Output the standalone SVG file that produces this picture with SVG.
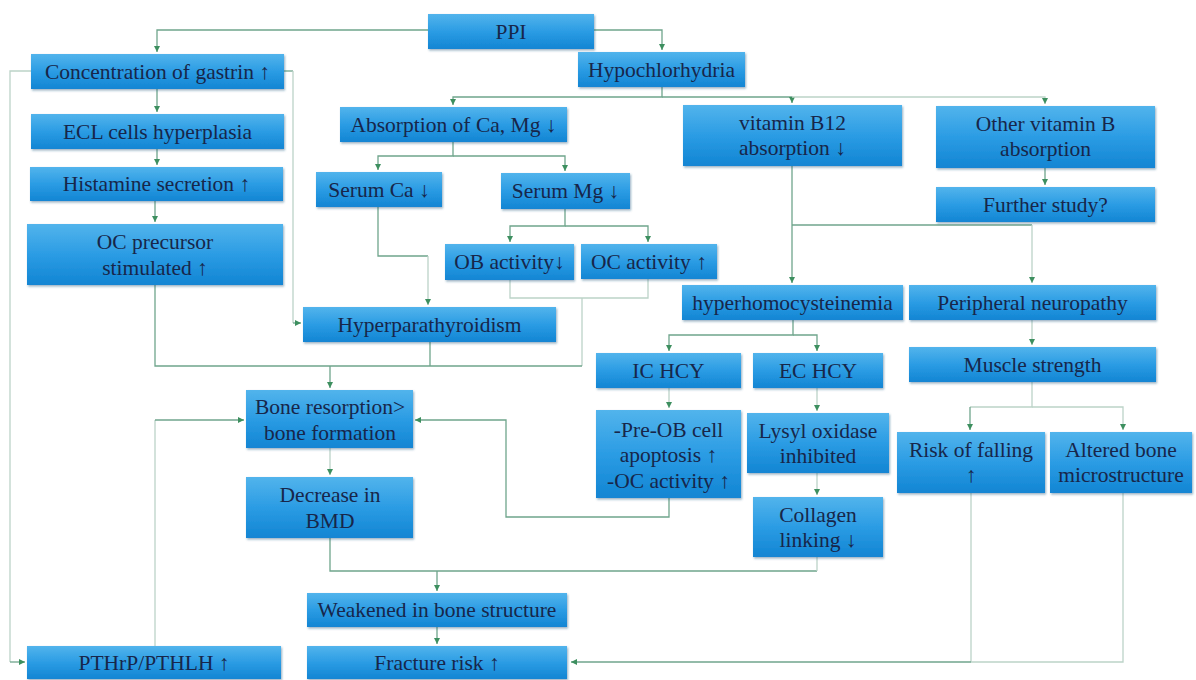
<svg xmlns="http://www.w3.org/2000/svg" width="1196" height="680" viewBox="0 0 1196 680">
<style>
.b{fill:url(#g);filter:url(#sh)}
.t{font-family:'Liberation Serif','Times New Roman',Tinos,'DejaVu Serif',serif;font-size:21.5px;fill:#17264a;text-anchor:middle}
.c{fill:none;stroke:#6fa58c;stroke-width:1.3}
.l{fill:none;stroke:#bcd3c8;stroke-width:1.3}
</style>
<defs>
<linearGradient id="g" x1="0" y1="0" x2="0" y2="1">
<stop offset="0" stop-color="#52b4ec"/>
<stop offset="0.5" stop-color="#2b9ce4"/>
<stop offset="1" stop-color="#1285d3"/>
</linearGradient>
<filter id="sh" x="-5%" y="-10%" width="110%" height="130%">
<feDropShadow dx="1" dy="1.5" stdDeviation="1" flood-color="#1d4f78" flood-opacity="0.45"/>
</filter>
<marker id="a" markerUnits="userSpaceOnUse" markerWidth="7" markerHeight="7" refX="6" refY="3" orient="auto">
<path d="M0,0 L6,3 L0,6 z" fill="#3d8f5f"/>
</marker>
</defs>
<rect width="1196" height="680" fill="#ffffff"/>
<g id="connectors">
<path class="c" d="M428,30 H157 V52" marker-end="url(#a)"/>
<path class="c" d="M594,30 H662 V50" marker-end="url(#a)"/>
<path class="c" d="M662,87 V97 H453 V105" marker-end="url(#a)"/>
<path class="c" d="M662,97 H792 V103" marker-end="url(#a)"/>
<path class="l" d="M792,97 H1045 V104" marker-end="url(#a)"/>
<path class="c" d="M157,89 V112" marker-end="url(#a)"/>
<path class="c" d="M157,149 V165" marker-end="url(#a)"/>
<path class="c" d="M155,201 V222" marker-end="url(#a)"/>
<path class="c" d="M453,142 V156 H378 V170" marker-end="url(#a)"/>
<path class="c" d="M453,156 H565 V171" marker-end="url(#a)"/>
<path class="c" d="M378,207 V256 H428"/>
<path class="l" d="M428,256 V305" marker-end="url(#a)"/>
<path class="c" d="M565,209 V226 H510 V242" marker-end="url(#a)"/>
<path class="c" d="M565,226 H648 V242" marker-end="url(#a)"/>
<path class="l" d="M510,280 V298 H648 V279 M582,298 V366"/>
<path class="c" d="M284,71 H293"/>
<path class="l" d="M293,71 V323"/>
<path class="c" d="M293,323 H301" marker-end="url(#a)"/>
<path class="l" d="M31,71 H10 V662"/>
<path class="c" d="M10,662 H25" marker-end="url(#a)"/>
<path class="c" d="M155,285 V366 H582 M430,342 V366"/>
<path class="c" d="M330,366 V388" marker-end="url(#a)"/>
<path class="l" d="M155,646 V420"/>
<path class="c" d="M155,420 H244" marker-end="url(#a)"/>
<path class="c" d="M669,498 V517 H506 V420 H415" marker-end="url(#a)"/>
<path class="l" d="M330,448 V475" marker-end="url(#a)"/>
<path class="c" d="M330,538 V571 H817"/>
<path class="l" d="M817,571 V557"/>
<path class="c" d="M437,571 V591" marker-end="url(#a)"/>
<path class="c" d="M437,627 V644" marker-end="url(#a)"/>
<path class="l" d="M1123,493 V662 H971 M971,493 V662"/>
<path class="c" d="M971,662 H571" marker-end="url(#a)"/>
<path class="c" d="M792,166 V283" marker-end="url(#a)"/>
<path class="c" d="M792,225 H1032"/>
<path class="l" d="M1032,225 V283" marker-end="url(#a)"/>
<path class="c" d="M1045,168 V185" marker-end="url(#a)"/>
<path class="l" d="M1032,320 V345" marker-end="url(#a)"/>
<path class="l" d="M1032,382 V407 H970"/>
<path class="c" d="M970,407 V430" marker-end="url(#a)"/>
<path class="l" d="M1032,407 H1123 V430" marker-end="url(#a)"/>
<path class="c" d="M793,320 V335 H669 V351" marker-end="url(#a)"/>
<path class="c" d="M793,335 H817 V351" marker-end="url(#a)"/>
<path class="l" d="M669,388 V408" marker-end="url(#a)"/>
<path class="l" d="M817,388 V411" marker-end="url(#a)"/>
<path class="l" d="M817,473 V495" marker-end="url(#a)"/>
</g>
<g font-family="Liberation Serif, Times New Roman, serif">
<g id="ppi"><rect class="b" x="428" y="14" width="166" height="35"/><text class="t" x="511" y="38.5">PPI</text></g>
<g id="hypochlorhydria"><rect class="b" x="578" y="52" width="167" height="35"/><text class="t" x="661.5" y="76.5">Hypochlorhydria</text></g>
<g id="gastrin"><rect class="b" x="31" y="54" width="253" height="35"/><text class="t" x="157.5" y="78.5">Concentration of gastrin ↑</text></g>
<g id="ecl"><rect class="b" x="31" y="114" width="253" height="35"/><text class="t" x="157.5" y="138.5">ECL cells hyperplasia</text></g>
<g id="histamine"><rect class="b" x="30" y="167" width="253" height="34"/><text class="t" x="156.5" y="191">Histamine secretion ↑</text></g>
<g id="ocprecursor"><rect class="b" x="27" y="224" width="256" height="61"/><text class="t" x="155" y="249">OC precursor</text><text class="t" x="155" y="275">stimulated ↑</text></g>
<g id="absorption"><rect class="b" x="340" y="107" width="227" height="35"/><text class="t" x="453.5" y="131.5">Absorption of Ca, Mg ↓</text></g>
<g id="vitb12"><rect class="b" x="683" y="105" width="219" height="61"/><text class="t" x="792.5" y="130">vitamin B12</text><text class="t" x="792.5" y="155">absorption ↓</text></g>
<g id="othervitb"><rect class="b" x="936" y="106" width="219" height="62"/><text class="t" x="1045.5" y="131">Other vitamin B</text><text class="t" x="1045.5" y="156">absorption</text></g>
<g id="further"><rect class="b" x="936" y="187" width="219" height="35"/><text class="t" x="1045.5" y="211.5">Further study?</text></g>
<g id="serumca"><rect class="b" x="316" y="172" width="126" height="35"/><text class="t" x="379" y="196.5">Serum Ca ↓</text></g>
<g id="serummg"><rect class="b" x="501" y="173" width="129" height="36"/><text class="t" x="565.5" y="198">Serum Mg ↓</text></g>
<g id="obactivity"><rect class="b" x="445" y="244" width="129" height="36"/><text class="t" x="509.5" y="269">OB activity↓</text></g>
<g id="ocactivity"><rect class="b" x="581" y="244" width="136" height="35"/><text class="t" x="649" y="268.5">OC activity ↑</text></g>
<g id="hyperpara"><rect class="b" x="303" y="307" width="253" height="35"/><text class="t" x="429.5" y="331.5">Hyperparathyroidism</text></g>
<g id="hyperhomo"><rect class="b" x="682" y="285" width="221" height="35"/><text class="t" x="792.5" y="309.5">hyperhomocysteinemia</text></g>
<g id="peripheral"><rect class="b" x="909" y="285" width="247" height="35"/><text class="t" x="1032.5" y="309.5">Peripheral neuropathy</text></g>
<g id="muscle"><rect class="b" x="909" y="347" width="247" height="35"/><text class="t" x="1032.5" y="371.5">Muscle strength</text></g>
<g id="ichcy"><rect class="b" x="596" y="353" width="145" height="35"/><text class="t" x="668.5" y="377.5">IC HCY</text></g>
<g id="echcy"><rect class="b" x="753" y="353" width="130" height="35"/><text class="t" x="818" y="377.5">EC HCY</text></g>
<g id="preob"><rect class="b" x="596" y="410" width="145" height="88"/><text class="t" x="668.5" y="437">-Pre-OB cell</text><text class="t" x="668.5" y="462">apoptosis ↑</text><text class="t" x="668.5" y="488">-OC activity ↑</text></g>
<g id="lysyl"><rect class="b" x="747" y="413" width="142" height="60"/><text class="t" x="818" y="438">Lysyl oxidase</text><text class="t" x="818" y="463">inhibited</text></g>
<g id="collagen"><rect class="b" x="753" y="497" width="130" height="60"/><text class="t" x="818" y="522">Collagen</text><text class="t" x="818" y="547">linking ↓</text></g>
<g id="riskfalling"><rect class="b" x="897" y="432" width="148" height="61"/><text class="t" x="971" y="457">Risk of falling</text><text class="t" x="971" y="482">↑</text></g>
<g id="altered"><rect class="b" x="1050" y="432" width="142" height="61"/><text class="t" x="1121" y="457">Altered bone</text><text class="t" x="1121" y="482">microstructure</text></g>
<g id="boneresorption"><rect class="b" x="246" y="390" width="167" height="58"/><text class="t" x="330" y="414">Bone resorption&gt;</text><text class="t" x="330" y="440">bone formation</text></g>
<g id="bmd"><rect class="b" x="246" y="477" width="167" height="61"/><text class="t" x="330" y="502">Decrease in</text><text class="t" x="330" y="528">BMD</text></g>
<g id="weakened"><rect class="b" x="307" y="593" width="260" height="34"/><text class="t" x="437" y="617">Weakened in bone structure</text></g>
<g id="fracture"><rect class="b" x="307" y="646" width="260" height="33"/><text class="t" x="437" y="670">Fracture risk ↑</text></g>
<g id="pthrp"><rect class="b" x="27" y="646" width="254" height="33"/><text class="t" x="154" y="670">PTHrP/PTHLH ↑</text></g>
</g>
</svg>
